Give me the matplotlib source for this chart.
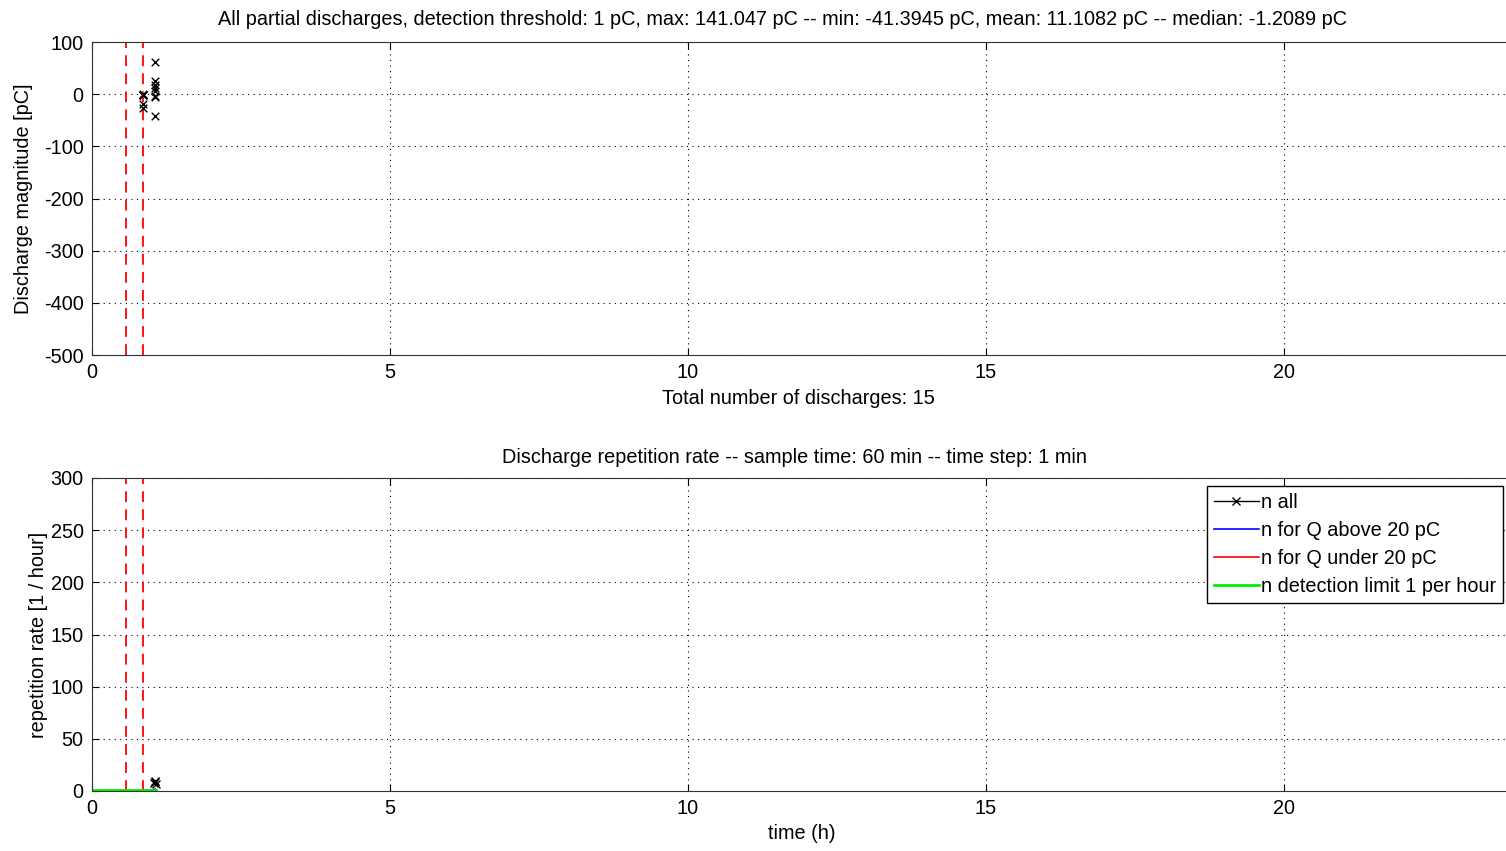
import matplotlib
matplotlib.use("Agg")
import matplotlib.pyplot as plt
import numpy as np

plt.rcParams['font.family'] = ['Liberation Sans', 'DejaVu Sans']
plt.rcParams['axes.unicode_minus'] = False

# tiempos de descarga (h) y magnitud (pC)
t_descargas = [0.856, 0.856, 0.856, 0.856, 0.856, 0.856,
               1.057, 1.057, 1.057, 1.057, 1.057, 1.057, 1.057, 1.057, 1.057]
q_descargas = [0.5, -1.2089, -1.8, -2.5, -19.0, -26.0,
               141.047, 62.0, 26.0, 18.0, 12.0, 7.0, -3.0, -5.0, -41.3945]

# lineas de referencia (h)
marcas_t = [0.57, 0.856]

# tasa de repeticion (1/hora)
t_tasa = [1.04, 1.05, 1.06, 1.07]
n_todas = [8, 10, 9, 7]
n_sobre = [0, 1, 2, 1]
n_bajo = [7, 9, 7, 6]
t_limite = [0.0, 1.07]
n_limite = [1, 1]

titulo1 = ("All partial discharges, detection threshold: 1 pC, max: 141.047 pC -- "
           "min: -41.3945 pC, mean: 11.1082 pC -- median: -1.2089 pC")
titulo2 = "Discharge repetition rate -- sample time: 60 min -- time step: 1 min"

W, H = 1506, 851
fig = plt.figure(figsize=(W / 100, H / 100), dpi=100)

def caja(x0, y0, x1, y1):
    return [x0 / W, 1 - y1 / H, (x1 - x0) / W, (y1 - y0) / H]

fs = 14.3

def estilo(ax):
    ax.set_xlim(0, 24)
    ax.set_xticks([0, 5, 10, 15, 20])
    ax.grid(True, color='black', linestyle=(0, (1, 4)), linewidth=0.8)
    ax.tick_params(direction='in', labelsize=fs, length=5, top=True, right=True, pad=6)
    for s in ax.spines.values():
        s.set_color('#333333')
    for t in marcas_t:
        ax.axvline(t, color='red', linestyle=(0, (6, 4)), linewidth=1.3)

ax1 = fig.add_axes(caja(92, 42, 1522, 355))
estilo(ax1)
ax1.set_ylim(-500, 100)
ax1.set_yticks(np.arange(-500, 101, 100))
ax1.scatter(t_descargas, q_descargas, marker='x', color='black', s=30, linewidths=1, zorder=3)
ax1.set_title(titulo1, fontsize=fs, pad=12, x=0.483)
ax1.set_xlabel("Total number of discharges: %d" % len(q_descargas), fontsize=fs, labelpad=5)
ax1.xaxis.label.set_x(0.494)
ax1.set_ylabel("Discharge magnitude [pC]", fontsize=fs, labelpad=8)

ax2 = fig.add_axes(caja(92, 478, 1522, 791))
estilo(ax2)
ax2.set_ylim(0, 300)
ax2.set_yticks(np.arange(0, 301, 50))
ax2.plot(t_tasa, n_todas, color='black', marker='x', markersize=6, linewidth=1, label='n all', zorder=4)
ax2.plot(t_tasa, n_sobre, color='blue', linewidth=1.2, label='n for Q above 20 pC')
ax2.plot(t_tasa, n_bajo, color='red', linewidth=1.2, label='n for Q under 20 pC')
ax2.plot(t_limite, n_limite, color='#00ee00', linewidth=2, label='n detection limit 1 per hour')
ax2.set_title(titulo2, fontsize=fs, pad=11, x=0.491)
ax2.set_xlabel("time (h)", fontsize=fs, labelpad=4)
ax2.xaxis.label.set_x(0.4965)
ax2.set_ylabel("repetition rate [1 / hour]", fontsize=fs, labelpad=2)

leg = ax2.legend(loc='upper left', bbox_to_anchor=(1207 / W, 1 - 486 / H),
                 bbox_transform=fig.transFigure, borderaxespad=0, fontsize=fs,
                 fancybox=False, framealpha=1, edgecolor='black', handlelength=2.25,
                 handletextpad=0.1, borderpad=0.35, labelspacing=0.45)
leg.get_frame().set_linewidth(1)

fig.savefig("out.png", dpi=100)
